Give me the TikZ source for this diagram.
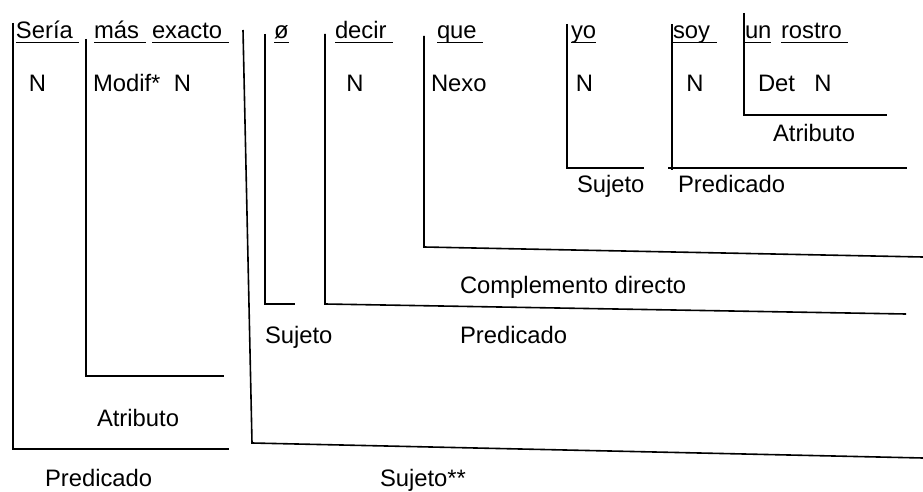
\documentclass[tikz,border=0pt]{standalone}
\usepackage{fontspec}
\setmainfont{Liberation Sans}
\newcommand{\ulword}[1]{\setbox0\hbox{#1}\rlap{\rule[-4.3pt]{\wd0}{1.5pt}}\box0}
\begin{document}
\begin{tikzpicture}[x=1pt,y=-1pt,
  lbl/.style={inner sep=0pt,outer sep=0pt,font=\fontsize{23.8}{28}\selectfont},
  wl/.style={lbl,anchor=base west},
  cl/.style={lbl,anchor=base},
  bracket/.style={line width=1.6pt,line join=miter}]
\useasboundingbox (0,0) rectangle (923,492);
% row 1 words
\node[wl] (w1) at (16,39) {\ulword{Sería\ }};
\node[wl] (w2) at (94,39) {\ulword{más\ }};
\node[wl] (w3) at (152,39) {\ulword{exacto\ }};
\node[wl] (w4) at (274,39) {\ulword{ø}};
\node[wl] (w5) at (335,39) {\ulword{decir\ }};
\node[wl] (w6) at (437,39) {\ulword{que\ }};
\node[wl] (w7) at (571,39) {\ulword{yo}};
\node[wl] (w8) at (673,39) {\ulword{soy\ }};
\node[wl] (w9) at (745,39) {\ulword{un}};
\node[wl] (w10) at (781,39) {\ulword{rostro\ }};
% row 2
\node[cl] (n1) at (37.5,92) {N};
\node[wl] (m1) at (93,92) {Modif*};
\node[cl] (n2) at (182.5,92) {N};
\node[cl] (n3) at (355,92) {N};
\node[wl] (nx) at (431,92) {Nexo};
\node[cl] (n4) at (584.5,92) {N};
\node[cl] (n5) at (695,92) {N};
\node[wl] (dt) at (758,92) {Det};
\node[cl] (n6) at (823,92) {N};
% functions
\node[wl] (at1) at (773,142) {Atributo};
\node[wl] (sj1) at (577,192) {Sujeto};
\node[wl] (pr1) at (678,192) {Predicado};
\node[wl] (cd) at (460,293) {Complemento directo};
\node[wl] (sj2) at (265,343) {Sujeto};
\node[wl] (pr2) at (460,343) {Predicado};
\node[wl] (at2) at (97,426) {Atributo};
\node[wl] (pr3) at (45,486) {Predicado};
\node[wl] (sj3) at (380,486) {Sujeto**};
% brackets
\draw[bracket] (13,23) -- (13,449) -- (229,449);
\draw[bracket] (86,39) -- (86,376) -- (224,376);
\draw[bracket] (243,30) -- (252,443) -- (923,458);
\draw[bracket] (265,34) -- (265,304) -- (295,304);
\draw[bracket] (325,34) -- (325,304) -- (906,314);
\draw[bracket] (424,36) -- (424,247) -- (923,257);
\draw[bracket] (567,24) -- (567,168) -- (644,168);
\draw[bracket] (672,24) -- (672,170);
\draw[bracket] (668,168) -- (907,168);
\draw[bracket] (744,13) -- (744,115) -- (887,115);
\end{tikzpicture}
\end{document}
